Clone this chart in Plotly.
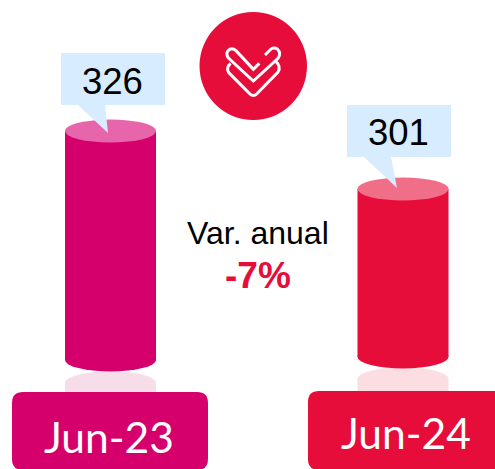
import plotly.graph_objects as go

categories = ["Jun-23", "Jun-24"]
values = [326, 301]
axis_floor = [227.3, 228.6]
bar_colors = ["#D6006D", "#E60D3A"]
top_colors = ["#E766AB", "#F16E88"]
glow_colors = ["#F7DCE9", "#FBDDE2"]
callout_color = "#D7ECFE"
variation_title = "Var. anual"
variation_value = "-7%"

W, H = 495, 469
px = lambda x: x / W
py = lambda y: 1 - y / H
RX, RY = 45.5, 11.5

shapes = []
ann = []

def ell(i, anchor, color, dy=0):
    shapes.append(dict(type="circle", xref="x", yref="y", xsizemode="pixel", ysizemode="pixel",
                       xanchor=i, yanchor=anchor, x0=-RX, x1=RX, y0=-RY - dy, y1=RY - dy,
                       fillcolor=color, line_width=0))

def pth(d, fill=None, line=None, lw=0):
    s = dict(type="path", xref="paper", yref="paper", path=d, line=dict(width=lw, color=line or "rgba(0,0,0,0)"))
    s["fillcolor"] = fill or "rgba(0,0,0,0)"
    shapes.append(s)

def P(x, y):
    return f"{px(x):.5f},{py(y):.5f}"

def poly(pts):
    return "M " + " L ".join(P(*p) for p in pts) + " Z"

def rrect(x0, y0, x1, y1, r, right_square=False):
    d = f"M {P(x0 + r, y0)} L {P(x1 - (0 if right_square else r), y0)} "
    if not right_square:
        d += f"Q {P(x1, y0)} {P(x1, y0 + r)} L {P(x1, y1 - r)} Q {P(x1, y1)} {P(x1 - r, y1)} "
    else:
        d += f"L {P(x1, y1)} "
    d += f"L {P(x0 + r, y1)} Q {P(x0, y1)} {P(x0, y1 - r)} L {P(x0, y0 + r)} Q {P(x0, y0)} {P(x0 + r, y0)} Z"
    return d

# reflections
for i, (glow, dy) in enumerate(zip(glow_colors, [23, 22])):
    ell(i, axis_floor[i], glow, dy=dy)
    shapes.append(dict(type="rect", xref="x", yref="y", xsizemode="pixel", ysizemode="pixel",
                       xanchor=i, yanchor=axis_floor[i], x0=-RX, x1=RX, y0=-dy, y1=-40,
                       fillcolor=glow, line_width=0))

# cylinder ends
for i in range(2):
    ell(i, axis_floor[i], bar_colors[i])
    ell(i, values[i], top_colors[i])

# callouts
offs = [(61, 53, 165, 105, [(78, 105), (105, 105), (108, 133)]),
        (347, 105, 451, 157, [(364, 157), (391, 157), (397, 188)])]
for x0, y0, x1, y1, tail in offs:
    pth(poly([(x0, y0), (x1, y0), (x1, y1), tail[1], tail[2], tail[0], (x0, y1)]), fill=callout_color)

# label boxes
pth(rrect(12, 392, 208, 470, 11), fill=bar_colors[0])
pth(rrect(308, 391, 495, 470, 11, right_square=True), fill=bar_colors[1])

# down icon
shapes.append(dict(type="circle", xref="paper", yref="paper", x0=px(199.5), x1=px(307),
                   y0=py(120), y1=py(12), fillcolor=bar_colors[1], line_width=0))
Z = lambda x, y: P(190 + x / 3, 10 + y / 3)
pth(f"M {Z(208,160)} L {Z(190,178)} L {Z(138,122)} Q {Z(125,110)} {Z(114,122)} Q {Z(106,133)} {Z(116,145)} "
    f"L {Z(190,213)} L {Z(264,145)} Q {Z(275,130)} {Z(262,117)} Q {Z(250,110)} {Z(240,120)} L {Z(225,135)}",
    line="white", lw=3)
pth(f"M {Z(122,160)} Q {Z(107,172)} {Z(116,188)} L {Z(180,252)} Q {Z(190,261)} {Z(200,252)} "
    f"L {Z(264,186)} Q {Z(274,170)} {Z(258,155)}", line="white", lw=3)

# texts
def text(x, y, s, fam, size, color):
    ann.append(dict(x=px(x), y=py(y), xref="paper", yref="paper", text=s, showarrow=False,
                    xanchor="center", yanchor="middle",
                    font=dict(family=fam, size=size, color=color)))

value_pos = [(112.5, 81), (398, 132)]
for v, (xx, yy) in zip(values, value_pos):
    text(xx, yy, str(v), "Liberation Sans", 36.5, "#000000")
cat_pos = [(109, 436), (406, 432)]
for c, (xx, yy) in zip(categories, cat_pos):
    text(xx, yy, c, "Lato", 42.5, "#FFFFFF")
text(257.5, 233, variation_title, "Liberation Sans", 32, "#000000")
text(258, 275, f"<b>{variation_value}</b>", "Liberation Sans", 37, bar_colors[1])

fig = go.Figure(go.Bar(
    x=[0, 1], y=[v - b for v, b in zip(values, axis_floor)], base=axis_floor,
    width=91 / 292.5, marker=dict(color=bar_colors, line_width=0), hoverinfo="skip",
))
fig.update_layout(
    width=W, height=H, margin=dict(l=0, r=0, t=0, b=0), showlegend=False,
    paper_bgcolor="white", plot_bgcolor="white", shapes=shapes, annotations=ann,
    xaxis=dict(range=[-110.5 / 292.5, (W - 110.5) / 292.5], visible=False, fixedrange=True),
    yaxis=dict(range=[326 - 338 / 2.32, 326 + 131 / 2.32], visible=False, fixedrange=True),
)
fig.write_html("out.html", config=dict(displayModeBar=False),
               post_script="document.body.style.margin='0';")
